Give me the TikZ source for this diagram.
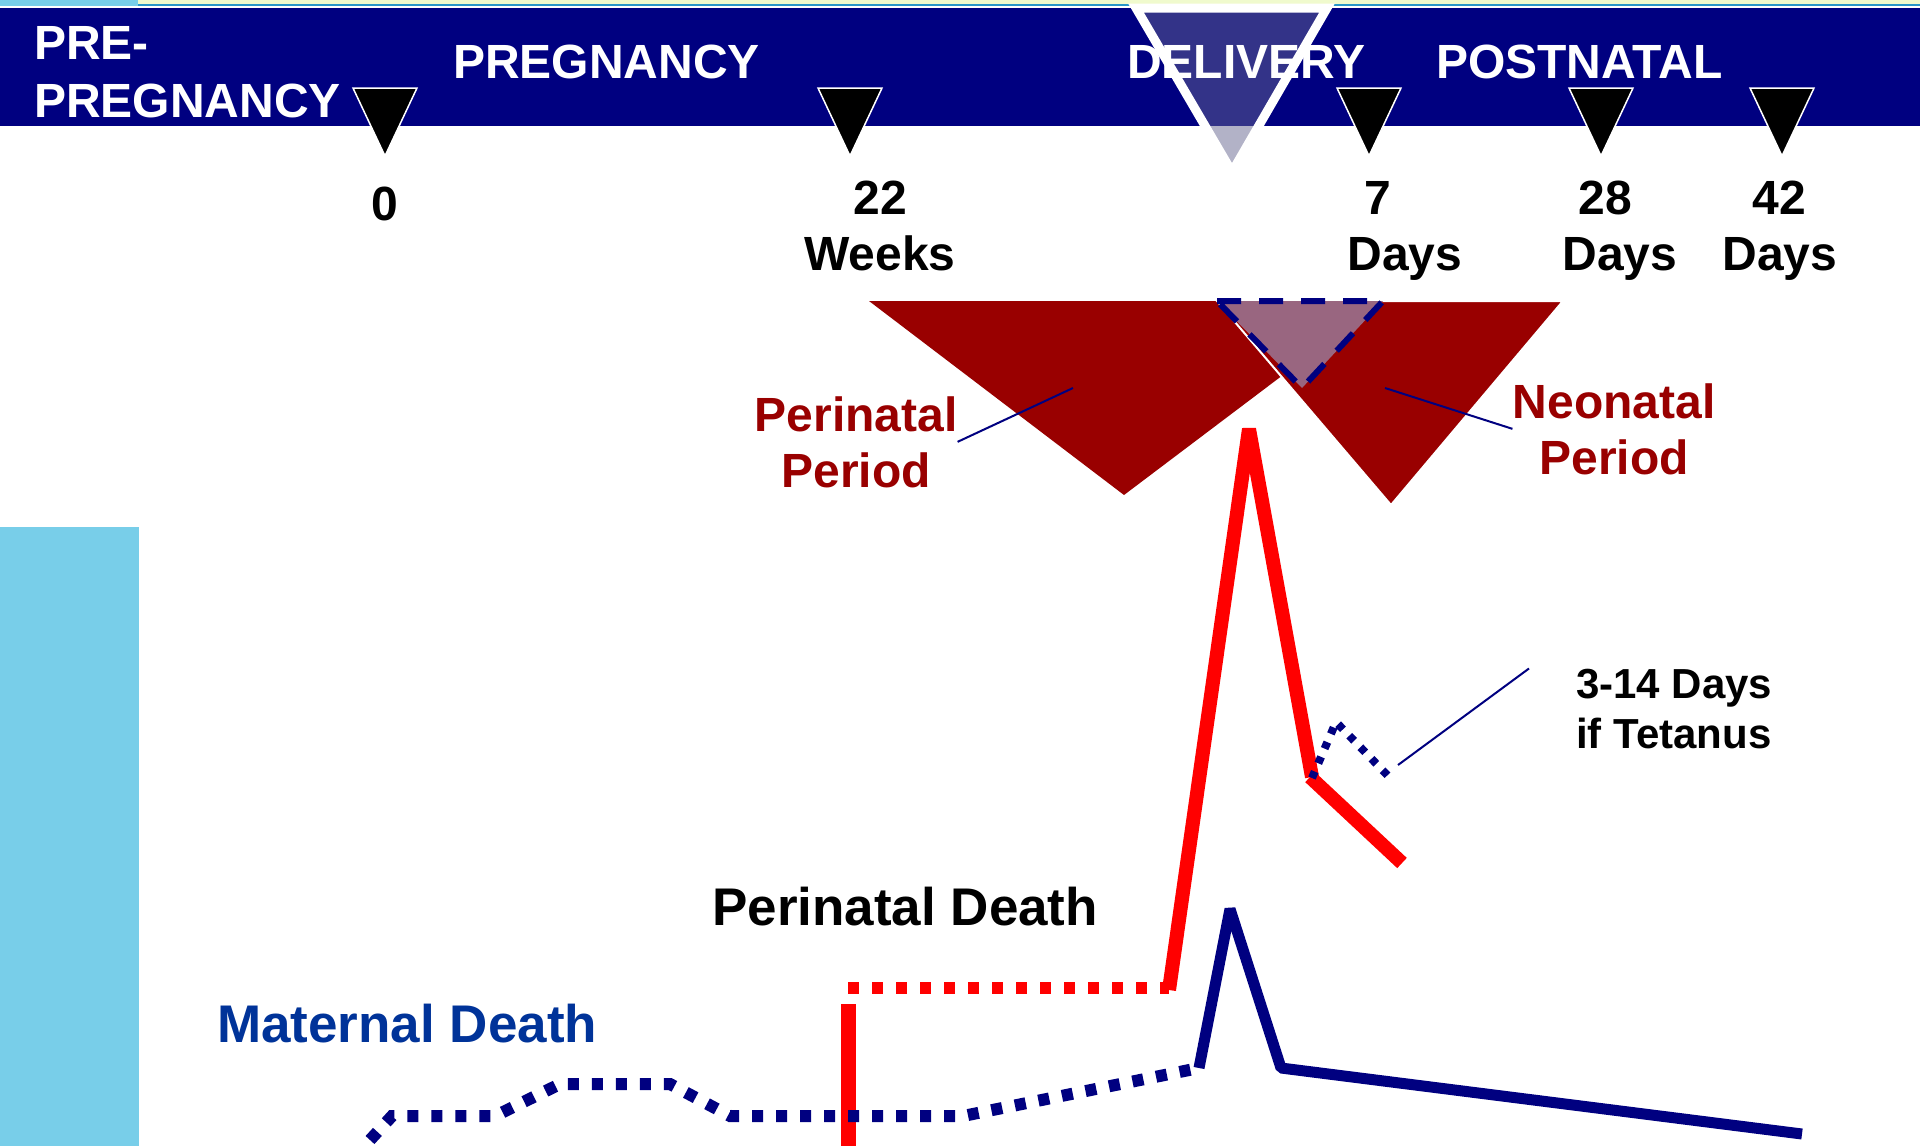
\documentclass[tikz,border=0pt]{standalone}
\usepackage{fontspec}
\setmainfont{Liberation Sans}
\begin{document}
\begin{tikzpicture}[x=1pt, y=-1pt,
    bandtxt/.style={text=white, font=\bfseries\fontsize{48}{58}\selectfont, inner sep=0pt, anchor=base west, align=left},
    ticktxt/.style={font=\bfseries\fontsize{48}{56}\selectfont, inner sep=0pt, anchor=base},
    periodtxt/.style={text=mydred, font=\bfseries\fontsize{48}{56}\selectfont, inner sep=0pt, align=center, anchor=base},
    deathtxt/.style={font=\bfseries\fontsize{53}{60}\selectfont, inner sep=0pt, anchor=base west},
    marker/.style={fill=black, draw=white, line width=1.5pt},
    leader/.style={draw=mynavy, line width=2pt},
    dotline/.style={line width=12pt, dash pattern=on 11pt off 13pt}]
    \definecolor{mynavy}{RGB}{0,0,128}
    \definecolor{myblue}{RGB}{0,51,153}
    \definecolor{mydred}{RGB}{153,0,0}
    \definecolor{mymauve}{RGB}{153,102,128}
    \definecolor{myred}{RGB}{255,0,0}
    \definecolor{mysky}{RGB}{120,206,233}
    \definecolor{myyel}{RGB}{240,250,205}
    \definecolor{myteal}{RGB}{40,150,200}
    \definecolor{mydel}{RGB}{102,102,144}

    \useasboundingbox (0,0) rectangle (1920,1146);
    \fill[white] (0,0) rectangle (1920,1146);
    \fill[mysky] (0,0) rectangle (138,6);
    \fill[myyel] (138,0) rectangle (1920,4);
    \fill[myteal] (138,4) rectangle (1920,6);
    \fill[mysky] (0,527) rectangle (139,1146);
    \fill[mynavy] (0,8) rectangle (1920,126);

    \filldraw[fill=mydel, fill opacity=0.5, draw=white, line width=9pt] (1136,8) -- (1327,8) -- (1232,172) -- cycle;

    \node[bandtxt] (prepreg) at (34,117) {PRE-\\PREGNANCY};
    \node[bandtxt] (preg) at (453,78) {PREGNANCY};
    \node[bandtxt] (deliv) at (1127,78) {DELIVERY};
    \node[bandtxt] (postn) at (1436,78) {POSTNATAL};

    \path[marker] (353,88) -- (417,88) -- (385,156) -- cycle;
    \path[marker] (818,88) -- (882,88) -- (850,156) -- cycle;
    \path[marker] (1337,88) -- (1401,88) -- (1369,156) -- cycle;
    \path[marker] (1569,88) -- (1633,88) -- (1601,156) -- cycle;
    \path[marker] (1750,88) -- (1814,88) -- (1782,156) -- cycle;

    \node[ticktxt] (n0) at (385,220) {0};
    \node[ticktxt] (n22) at (880,214) {22};
    \node[ticktxt] (u22) at (880,270) {Weeks};
    \node[ticktxt] (n7) at (1378,214) {7};
    \node[ticktxt] (u7) at (1405,270) {Days};
    \node[ticktxt] (n28) at (1605,214) {28};
    \node[ticktxt] (u28) at (1620,270) {Days};
    \node[ticktxt] (n42) at (1779,214) {42};
    \node[ticktxt] (u42) at (1780,270) {Days};

    \fill[mydred] (869,301) -- (1381,301) -- (1124,495) -- cycle;
    \filldraw[fill=mydred, draw=white, line width=2pt] (1217,301) -- (1563,301) -- (1391,505) -- cycle;
    \filldraw[fill=mymauve, draw=mynavy, line width=6pt, dash pattern=on 24pt off 18pt] (1217,301) -- (1383,301) -- (1302,388) -- cycle;

    \node[periodtxt] (periLbl) at (856,487) {Perinatal\\Period};
    \node[periodtxt] (neoLbl) at (1614,474) {Neonatal\\Period};
    \node[font=\bfseries\fontsize{42}{50}\selectfont, inner sep=0pt, align=left, anchor=base west] (tetLbl) at (1576,748) {3-14 Days\\if Tetanus};
    \node[deathtxt] (pdLbl) at (712,925) {Perinatal Death};
    \node[deathtxt, text=myblue] (mdLbl) at (217,1042) {Maternal Death};

    \coordinate (periTip) at (1073,388);
    \coordinate (neoTip) at (1385,388);
    \coordinate (tetTip) at (1398,765);
    \draw[leader] (periLbl.east) -- (periTip);
    \draw[leader] (neoLbl.west) -- (neoTip);
    \draw[leader] ([xshift=-47pt]tetLbl.north west) -- (tetTip);

    \draw[myred, line width=15pt] (848,1150) -- (848,1004);
    \draw[myred, dotline] (848,988) -- (1169,988);
    \draw[myred, line width=14pt, line join=bevel] (1169,990) -- (1249,429) -- (1312,777);
    \draw[myred, line width=14pt] (1310,777) -- (1402,863);

    \draw[mynavy, line width=8pt, dash pattern=on 7pt off 9pt] (1312,778) -- (1336,722) -- (1392,780);

    \draw[mynavy, dotline] (370,1140) -- (392,1116) -- (495,1116) -- (560,1084) -- (670,1084) -- (730,1116) -- (963,1116) -- (1199,1068);
    \draw[mynavy, line width=11pt, line join=bevel] (1199,1068) -- (1230,909) -- (1281,1068) -- (1802,1134);
\end{tikzpicture}
\end{document}
